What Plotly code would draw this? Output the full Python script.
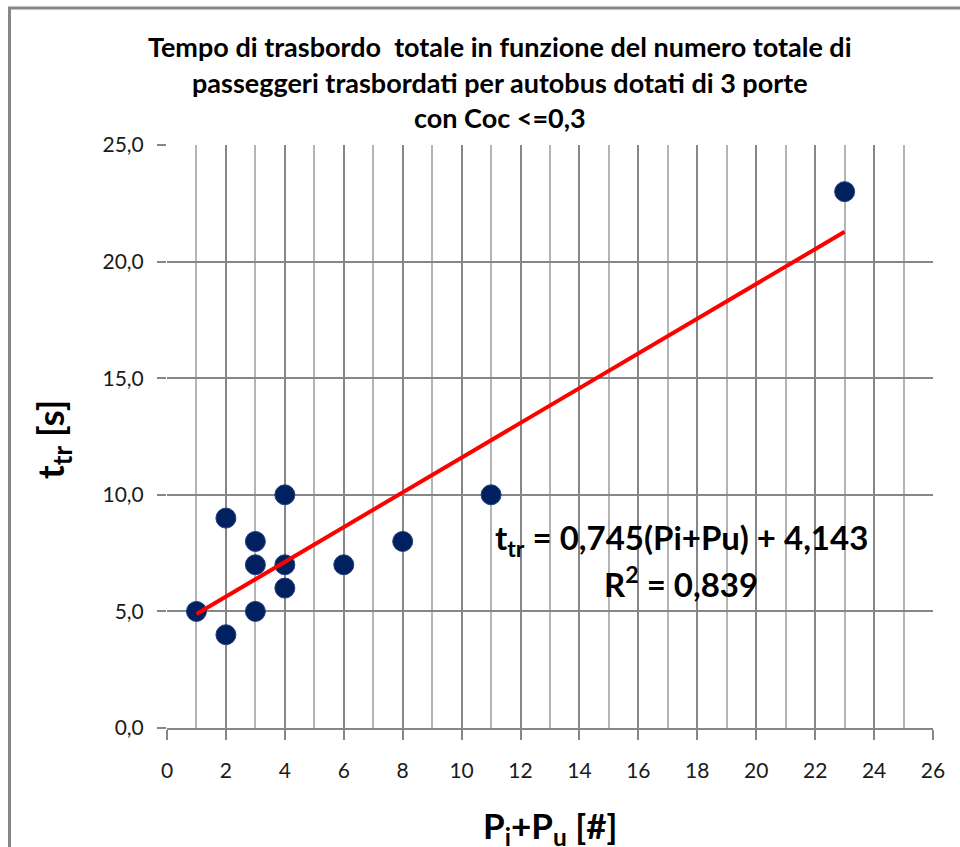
import plotly.graph_objects as go

# Data
x_vals = [1, 2, 2, 3, 3, 3, 4, 4, 4, 6, 8, 11, 23]
y_vals = [5, 9, 4, 8, 7, 5, 10, 7, 6, 7, 8, 10, 23]
slope = 0.745
intercept = 4.143
trend_x = [1, 23]
trend_y = [slope * v + intercept for v in trend_x]

title_lines = ["Tempo di trasbordo  totale in funzione del numero totale di",
               "passeggeri trasbordati per autobus dotati di 3 porte",
               "con Coc <=0,3"]

FONT = "Lato, Liberation Sans, sans-serif"
GRID_DARK = "#868686"
GRID_LIGHT = "#b4b4b4"

fig = go.Figure()
fig.add_trace(go.Scatter(x=x_vals, y=y_vals, mode="markers",
                         marker=dict(size=20, color="#002060", line=dict(width=1, color="#1f3f80")),
                         showlegend=False))
fig.add_trace(go.Scatter(x=trend_x, y=trend_y, mode="lines",
                         line=dict(color="#ff0000", width=4), showlegend=False))

L, R, T, B = 167, 27, 145, 119
W, H = 960, 847
pw = W - L - R
ph = H - T - B

fig.update_layout(
    width=W, height=H,
    margin=dict(l=L, r=R, t=T, b=B),
    paper_bgcolor="white", plot_bgcolor="white",
    separators=",.",
    font=dict(family=FONT, color="#000000"),
    xaxis=dict(range=[0, 26], dtick=2, tick0=0, showgrid=True, gridcolor=GRID_DARK, gridwidth=1.5,
               showline=True, linecolor=GRID_DARK, linewidth=2,
               ticks="outside", ticklen=10, tickcolor=GRID_DARK, tickwidth=1.5,
               ticklabelstandoff=13,
               tickfont=dict(size=21, family=FONT, color="#1a1a1a"), zeroline=False,
               minor=dict(dtick=1, showgrid=True, gridcolor=GRID_LIGHT, gridwidth=1.5)),
    yaxis=dict(range=[0, 25], dtick=5, tick0=0, tickformat=".1f", showgrid=True,
               gridcolor=GRID_DARK, gridwidth=1.5,
               showline=False, ticks="outside", ticklen=9, tickcolor=GRID_DARK, tickwidth=1.5,
               ticklabelstandoff=9,
               tickfont=dict(size=21, family=FONT, color="#1a1a1a"), zeroline=False),
)

# Outer chart border
fig.add_shape(type="rect", xref="paper", yref="paper",
              x0=(9.5 - L) / pw, x1=(980 - L) / pw,
              y0=(H - B - 870) / ph, y1=(H - B - 8) / ph,
              line=dict(color="#878787", width=3), fillcolor="rgba(0,0,0,0)", layer="above")

# Title
for i, line in enumerate(title_lines):
    fig.add_annotation(text=f"<b>{line}</b>", xref="paper", yref="paper",
                       x=(500 - L) / pw, y=(H - B - (47 + 35.5 * i)) / ph,
                       showarrow=False, xanchor="center", yanchor="middle",
                       font=dict(size=27, family=FONT, color="#000000"))

# Axis titles
fig.add_annotation(text="<b>P<sub>i</sub>+P<sub>u</sub> [#]</b>", xref="paper", yref="paper",
                   x=(550 - L) / pw, y=(H - B - 828) / ph, showarrow=False,
                   xanchor="center", yanchor="middle",
                   font=dict(size=35, family=FONT, color="#000000"))
fig.add_annotation(text="<b>t<sub>tr</sub> [s]</b>", xref="paper", yref="paper",
                   x=(52 - L) / pw, y=(H - B - 440) / ph, showarrow=False, textangle=-90,
                   xanchor="center", yanchor="middle",
                   font=dict(size=37, family=FONT, color="#000000"))

# Equation
fig.add_annotation(text="<b>t<sub>tr</sub> = 0,745(Pi+Pu) + 4,143</b>", x=17.46, y=8.07,
                   showarrow=False, xanchor="center", yanchor="middle",
                   font=dict(size=33, family=FONT, color="#000000"))
fig.add_annotation(text="<b>R<sup>2</sup> = 0,839</b>", x=17.46, y=6.26,
                   showarrow=False, xanchor="center", yanchor="middle",
                   font=dict(size=33, family=FONT, color="#000000"))

fig.write_html("out.html")
